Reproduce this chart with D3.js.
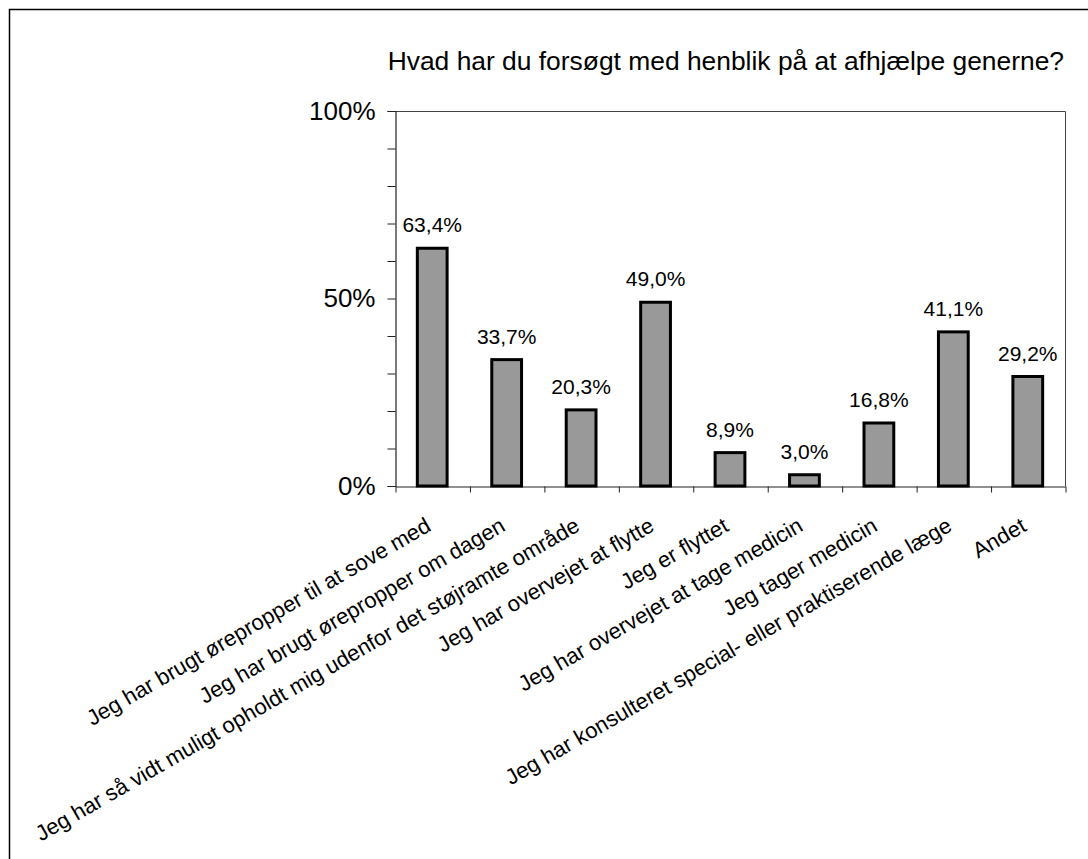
<!DOCTYPE html>
<html>
<head>
<meta charset="utf-8">
<script src="https://cdn.jsdelivr.net/npm/d3@7"></script>
<style>
  body { margin: 0; background: #fff; }
  svg { display: block; font-family: "Liberation Sans", Arial, sans-serif; }
</style>
</head>
<body>
<div id="chart"></div>
<script>
// Chart data
const TITLE = "Hvad har du forsøgt med henblik på at afhjælpe generne?";
const categories = [
  "Jeg har brugt ørepropper til at sove med",
  "Jeg har brugt ørepropper om dagen",
  "Jeg har så vidt muligt opholdt mig udenfor det støjramte område",
  "Jeg har overvejet at flytte",
  "Jeg er flyttet",
  "Jeg har overvejet at tage medicin",
  "Jeg tager medicin",
  "Jeg har konsulteret special- eller praktiserende læge",
  "Andet"
];
const values = [63.4, 33.7, 20.3, 49.0, 8.9, 3.0, 16.8, 41.1, 29.2];
const yTicks = [0, 10, 20, 30, 40, 50, 60, 70, 80, 90, 100];
const yLabelled = [0, 50, 100];

const WIDTH = 1088;
const HEIGHT = 859;
const PLOT = { left: 395, right: 1065, top: 111, bottom: 486 };

const svg = d3.select("#chart").append("svg")
  .attr("width", WIDTH)
  .attr("height", HEIGHT);

// outer frame (only top and left are visible)
svg.append("path")
  .attr("d", `M9.5,${HEIGHT} V9.5 H${WIDTH}`)
  .attr("fill", "none")
  .attr("stroke", "#000")
  .attr("stroke-width", 1.5);

svg.append("text")
  .attr("x", 1064)
  .attr("y", 70)
  .attr("text-anchor", "end")
  .attr("font-size", 26.4)
  .attr("fill", "#000")
  .text(TITLE);

const xscale = d3.scaleBand()
  .domain(categories)
  .range([PLOT.left, PLOT.right]);

const yscale = d3.scaleLinear()
  .domain([0, 100])
  .range([PLOT.bottom, PLOT.top]);

// plot area border (top and right)
svg.append("path")
  .attr("d", `M${PLOT.left},${PLOT.top + 0.5} H${PLOT.right + 0.5} V${PLOT.bottom}`)
  .attr("fill", "none")
  .attr("stroke", "#444")
  .attr("stroke-width", 1);

// y axis
const y_axis = d3.axisLeft(yscale)
  .tickValues(yTicks)
  .tickSize(8)
  .tickPadding(12)
  .tickFormat((d) => (yLabelled.includes(d) ? d + "%" : ""));

const gy = svg.append("g")
  .attr("transform", `translate(${PLOT.left + 0.5},0)`)
  .call(y_axis);
gy.select(".domain").attr("stroke", "#222").attr("stroke-width", 1.2);
gy.selectAll(".tick line").attr("stroke", "#222");
gy.selectAll(".tick text")
  .attr("font-size", 26)
  .attr("font-family", "Liberation Sans, Arial, sans-serif")
  .attr("fill", "#000");

// x axis: ticks on the category boundaries
const boundaries = d3.range(categories.length + 1);
const xpos = d3.scaleLinear()
  .domain([0, categories.length])
  .range([PLOT.left, PLOT.right]);

const x_axis = d3.axisBottom(xpos)
  .tickValues(boundaries)
  .tickSize(6)
  .tickSizeOuter(0)
  .tickFormat("");

const gx = svg.append("g")
  .attr("transform", `translate(0.5,${PLOT.bottom + 0.5})`)
  .call(x_axis);
gx.select(".domain").attr("stroke", "#222").attr("stroke-width", 1.2);
gx.selectAll(".tick line").attr("stroke", "#222");

// category labels, rotated
svg.append("g")
  .selectAll("text")
  .data(categories)
  .enter()
  .append("text")
  .attr("transform", (d) => `translate(${xscale(d) + xscale.bandwidth() / 2},${PLOT.bottom + 44}) rotate(-30)`)
  .attr("text-anchor", "end")
  .attr("font-size", 22)
  .attr("fill", "#000")
  .text((d) => d);

// bars
const barWidth = xscale.bandwidth() * 0.4;

svg.append("g")
  .selectAll("rect")
  .data(values)
  .enter()
  .append("rect")
  .attr("x", (d, i) => xscale(categories[i]) + (xscale.bandwidth() - barWidth) / 2)
  .attr("y", (d) => yscale(d))
  .attr("width", barWidth)
  .attr("height", (d) => yscale(0) - yscale(d))
  .attr("fill", "#999999")
  .attr("stroke", "#000")
  .attr("stroke-width", 3);

// value labels
svg.append("g")
  .selectAll("text")
  .data(values)
  .enter()
  .append("text")
  .attr("x", (d, i) => xscale(categories[i]) + xscale.bandwidth() / 2)
  .attr("y", (d) => yscale(d) - 16)
  .attr("text-anchor", "middle")
  .attr("font-size", 21)
  .attr("fill", "#000")
  .text((d) => d.toFixed(1).replace(".", ",") + "%");
</script>
</body>
</html>
